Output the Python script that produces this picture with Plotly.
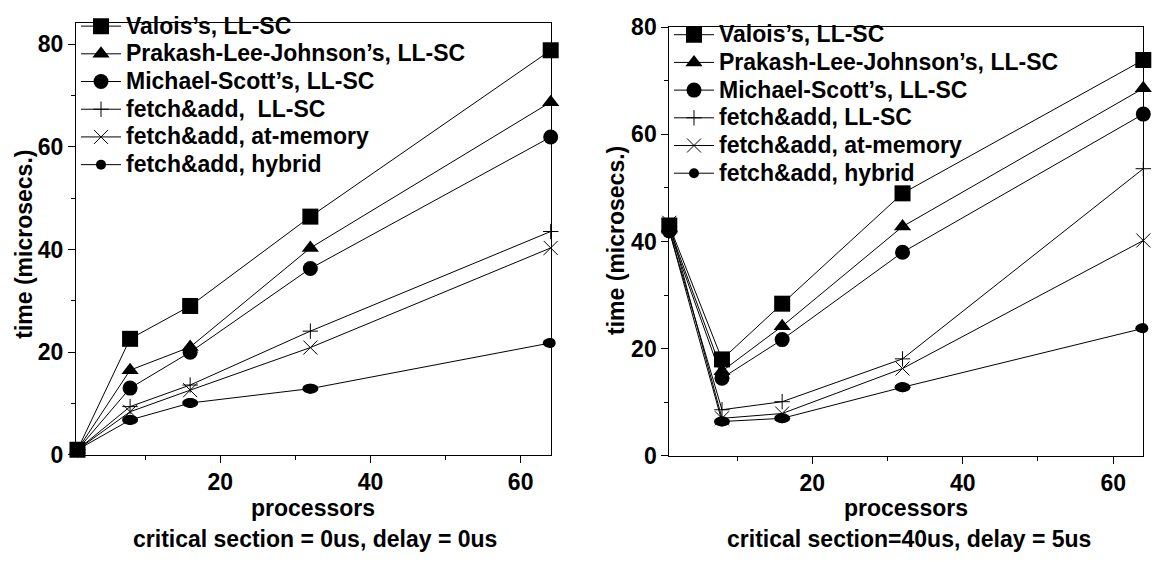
import plotly.graph_objects as go

# ---------------- data ----------------
processors = [1, 8, 16, 32, 64]

names_left = ["Valois’s, LL-SC", "Prakash-Lee-Johnson’s, LL-SC", "Michael-Scott’s, LL-SC",
              "fetch&add,\u00a0 LL-SC", "fetch&add, at-memory", "fetch&add, hybrid"]
names_right = ["Valois’s, LL-SC", "Prakash-Lee-Johnson’s, LL-SC", "Michael-Scott’s, LL-SC",
               "fetch&add, LL-SC", "fetch&add, at-memory", "fetch&add, hybrid"]

# left panel: critical section = 0us, delay = 0us
valois_L = [1.0, 22.6, 29.0, 46.4, 78.8]
plj_L = [1.0, 16.5, 21.0, 40.3, 68.7]
ms_L = [1.0, 13.0, 20.0, 36.3, 61.9]
fa_llsc_L = [1.0, 9.4, 13.6, 24.1, 43.5]
fa_mem_L = [1.0, 8.4, 12.6, 20.9, 40.3]
fa_hyb_L = [1.0, 6.8, 10.1, 12.9, 21.8]

# right panel: critical section = 40us, delay = 5us
valois_R = [43.0, 18.0, 28.4, 49.0, 73.9]
plj_R = [42.5, 15.8, 24.2, 42.8, 68.6]
ms_R = [42.0, 14.5, 21.7, 38.0, 63.8]
fa_llsc_R = [42.0, 8.6, 10.1, 18.1, 53.6]
fa_mem_R = [43.5, 7.0, 7.9, 16.3, 40.2]
fa_hyb_R = [42.0, 6.4, 7.0, 12.8, 23.8]

# ---------------- styles ----------------
FONT = "Liberation Sans, Arial, sans-serif"
TXT = 23
markers = [
    dict(symbol="square", size=16, color="black"),
    dict(symbol="triangle-up", size=15, color="black"),
    dict(symbol="circle", size=15, color="black"),
    dict(symbol="cross-thin-open", size=11, color="black", line=dict(width=1, color="black")),
    dict(symbol="x-thin-open", size=14, color="black", line=dict(width=1, color="black")),
    dict(symbol="circle", size=10, color="black"),
]

def legend_label(s):
    return f'<span style="font-size:{TXT}px">{s}</span>'

fig = go.Figure()

left_series = [valois_L, plj_L, ms_L, fa_llsc_L, fa_mem_L, fa_hyb_L]
right_series = [valois_R, plj_R, ms_R, fa_llsc_R, fa_mem_R, fa_hyb_R]

for name, ys, mk in zip(names_left, left_series, markers):
    fig.add_trace(go.Scatter(x=processors, y=ys, name=legend_label(name), mode="lines+markers",
                             line=dict(color="black", width=1), marker=mk,
                             xaxis="x", yaxis="y", legend="legend", cliponaxis=False))
for name, ys, mk in zip(names_right, right_series, markers):
    fig.add_trace(go.Scatter(x=processors, y=ys, name=legend_label(name), mode="lines+markers",
                             line=dict(color="black", width=1), marker=mk,
                             xaxis="x2", yaxis="y2", legend="legend2", cliponaxis=False))

# elliptical markers for the hybrid series
shapes = []
for xr, yr, ys in [("x", "y", fa_hyb_L), ("x2", "y2", fa_hyb_R)]:
    for xv, yv in zip(processors, ys):
        shapes.append(dict(type="circle", xref=xr, yref=yr, xsizemode="pixel", ysizemode="pixel",
                           xanchor=xv, yanchor=yv, x0=-8, x1=8, y0=-5, y1=5,
                           fillcolor="black", line=dict(width=0), layer="above"))

W, H = 1152, 562

def axis(domain, rng, anchor):
    return dict(domain=domain, range=rng, anchor=anchor, showline=True, mirror=True,
                linecolor="black", linewidth=1, ticks="outside", ticklen=7, tickwidth=1,
                tickcolor="black", showgrid=False, zeroline=False, tick0=0, dtick=20,
                tickfont=dict(size=TXT, family=FONT, color="black", weight="bold"),
                minor=dict(tick0=0, dtick=10, ticks="outside", ticklen=4,
                           tickcolor="black", tickwidth=1, showgrid=False))

legend_common = dict(xanchor="left", yanchor="top", bgcolor="rgba(0,0,0,0)",
                     font=dict(size=19, family=FONT, color="black", weight="bold"),
                     tracegroupgap=0, itemwidth=40, borderwidth=0)

ann_font = dict(size=TXT, family=FONT, color="black", weight="bold")
annotations = [
    dict(text="time (microsecs.)", textangle=-90, x=24 / W, y=1 - 243 / H, xref="paper", yref="paper",
         showarrow=False, xanchor="center", yanchor="middle", font=ann_font),
    dict(text="time (microsecs.)", textangle=-90, x=616 / W, y=1 - 239 / H, xref="paper", yref="paper",
         showarrow=False, xanchor="center", yanchor="middle", font=ann_font),
    dict(text="processors", x=313 / W, y=1 - 519 / H, xref="paper", yref="paper",
         showarrow=False, xanchor="center", yanchor="middle", font=ann_font),
    dict(text="processors", x=906 / W, y=1 - 519 / H, xref="paper", yref="paper",
         showarrow=False, xanchor="center", yanchor="middle", font=ann_font),
    dict(text="critical section = 0us, delay = 0us", x=315 / W, y=1 - 551 / H, xref="paper",
         yref="paper", showarrow=False, xanchor="center", yanchor="middle", font=ann_font),
    dict(text="critical section=40us, delay = 5us", x=909 / W, y=1 - 551 / H, xref="paper",
         yref="paper", showarrow=False, xanchor="center", yanchor="middle", font=ann_font),
]

fig.update_layout(
    width=W, height=H, margin=dict(l=0, r=0, t=0, b=0),
    paper_bgcolor="white", plot_bgcolor="white",
    font=dict(family=FONT, size=TXT, color="black", weight="bold"),
    xaxis=axis([76 / W, 550.7 / W], [0.8, 64], "y"),
    yaxis=axis([1 - 463.3 / H, 1 - 10 / H], [0, 84.2], "x"),
    xaxis2=axis([669.3 / W, 1143.3 / W], [1, 64], "y2"),
    yaxis2=axis([1 - 464.3 / H, 1 - 15 / H], [0, 80], "x2"),
    legend=dict(x=76 / W, y=1 + 6 / H, **legend_common),
    legend2=dict(x=669 / W, y=1 - 3 / H, **legend_common),
    shapes=shapes,
    annotations=annotations,
    showlegend=True,
)

fig.write_html("out.html")
